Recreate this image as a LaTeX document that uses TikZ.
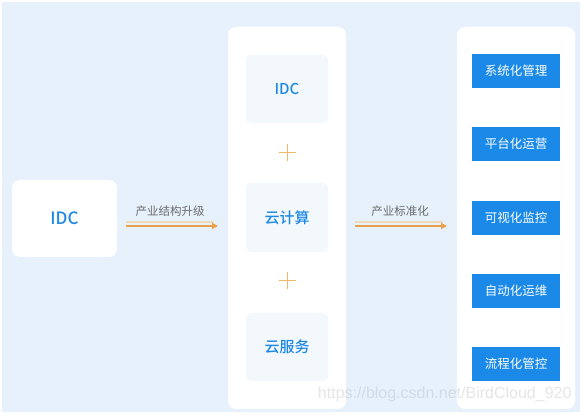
\documentclass[tikz,border=0pt]{standalone}
\usepackage{fontspec}
\setmainfont{Noto Sans CJK SC}[BoldFont={Noto Sans CJK SC Medium}]
\newfontfamily\wmfont{Liberation Sans}
\usetikzlibrary{arrows.meta}
\definecolor{bgblue}{HTML}{E7F1FC}
\definecolor{innerbox}{HTML}{F3F8FD}
\definecolor{txtblue}{HTML}{1E88E5}
\definecolor{btnblue}{HTML}{1A89E8}
\definecolor{lbl}{HTML}{6B6B6B}
\definecolor{arrLight}{HTML}{EED9B8}
\definecolor{arrDark}{HTML}{E8A04A}
\definecolor{plusc}{HTML}{F0B868}
\tikzset{
  panel/.style={fill=white,draw=none,rounded corners=8pt},
  inner/.style={fill=innerbox,draw=none,rounded corners=5pt,font=\fontsize{15}{17}\selectfont\bfseries,text=txtblue},
  btn/.style={fill=btnblue,draw=none,font=\fontsize{12.5}{14}\selectfont,text=white},
  lbltext/.style={font=\fontsize{11.5}{13}\selectfont,text=lbl},
  plusline/.style={draw=plusc,line width=1pt},
}
\begin{document}
\begin{tikzpicture}[x=1pt,y=-1pt]
\useasboundingbox (0,0) rectangle (582,414);
\fill[white] (0,0) rectangle (582,414);
\fill[bgblue] (2,2) rectangle (580,412);
% left box
\node[panel,minimum width=105pt,minimum height=77pt,font=\fontsize{17}{19}\selectfont\bfseries,text=txtblue] (idc0) at (64.5,218.5) {IDC};
% middle panel
\node[panel,minimum width=118pt,minimum height=382pt] (mid) at (287,218) {};
\node[inner,minimum width=82pt,minimum height=68pt] (idc) at (287,89) {IDC};
\node[inner,minimum width=82pt,minimum height=69pt] (cloud) at (287,217.5) {云计算};
\node[inner,minimum width=82pt,minimum height=68pt] (serv) at (287,347) {云服务};
\coordinate (p1) at (287,153);
\coordinate (p2) at (287,281);
\draw[plusline] ([xshift=-8.5pt]p1) -- ([xshift=8.5pt]p1) ([yshift=-8.5pt]p1) -- ([yshift=8.5pt]p1);
\draw[plusline] ([xshift=-8.5pt]p2) -- ([xshift=8.5pt]p2) ([yshift=-8.5pt]p2) -- ([yshift=8.5pt]p2);
% right panel
\node[panel,minimum width=118pt,minimum height=382pt] (right) at (516,218) {};
\node[btn,minimum width=88pt,minimum height=34pt] (b1) at (516,71) {系统化管理};
\node[btn,minimum width=88pt,minimum height=34pt] (b2) at (516,144) {平台化运营};
\node[btn,minimum width=88pt,minimum height=34pt] (b3) at (516,218) {可视化监控};
\node[btn,minimum width=88pt,minimum height=34pt] (b4) at (516,291) {自动化运维};
\node[btn,minimum width=88pt,minimum height=34pt] (b5) at (516,364) {流程化管控};
% arrows
\coordinate (a1s) at (126,224);
\coordinate (a1e) at (218,224);
\draw[arrLight,line width=1.3pt] ([yshift=2pt]a1s) -- ([yshift=2pt,xshift=-4pt]a1e);
\draw[arrDark,line width=1.3pt,-{Triangle[length=6pt,width=6pt]}] ([yshift=-2pt]a1s) -- ([yshift=-2pt]a1e);
\node[lbltext] (l1) at (170,211) {产业结构升级};
\coordinate (a2s) at (355,224);
\coordinate (a2e) at (447,224);
\draw[arrLight,line width=1.3pt] ([yshift=2pt]a2s) -- ([yshift=2pt,xshift=-4pt]a2e);
\draw[arrDark,line width=1.3pt,-{Triangle[length=6pt,width=6pt]}] ([yshift=-2pt]a2s) -- ([yshift=-2pt]a2e);
\node[lbltext] (l2) at (400,211) {产业标准化};
% watermark
\node[anchor=east,font=\wmfont\fontsize{16}{18}\selectfont,text=gray,opacity=0.2] (wm) at (575,394) {https://blog.csdn.net/BirdCloud\_920};
\end{tikzpicture}
\end{document}
